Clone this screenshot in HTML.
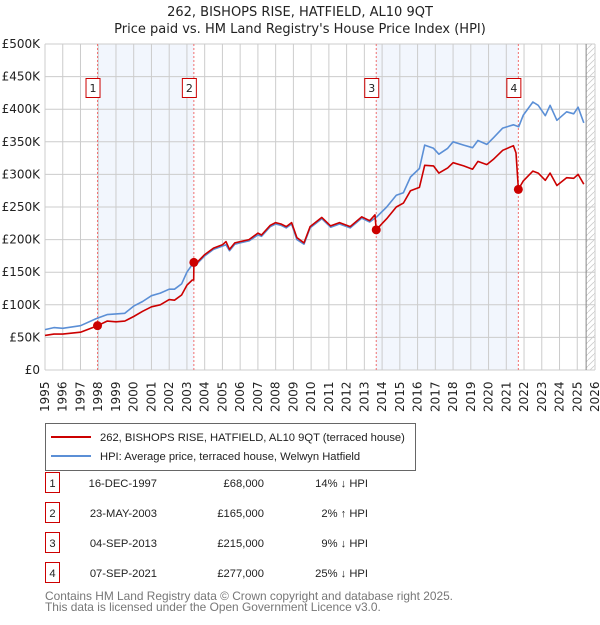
<!DOCTYPE html>
<html><head><meta charset="utf-8"><style>
body{margin:0;background:#fff;width:600px;height:620px;overflow:hidden;font-family:"Liberation Sans","DejaVu Sans",sans-serif}
svg text{font-family:"Liberation Sans","DejaVu Sans",sans-serif}
svg text.dv{font-family:"DejaVu Sans","Liberation Sans",sans-serif}
</style></head><body>
<svg id="c" width="600" height="620" xmlns="http://www.w3.org/2000/svg">
<defs><pattern id="hatch" width="6" height="6" patternUnits="userSpaceOnUse"><path d="M0 6L6 0" stroke="#ccc" stroke-width="0.8"/></pattern></defs>
<text class="dv" x="300" y="16" text-anchor="middle" font-size="13" fill="#222">262, BISHOPS RISE, HATFIELD, AL10 9QT</text>
<text class="dv" x="300" y="33" text-anchor="middle" font-size="13" fill="#222">Price paid vs. HM Land Registry's House Price Index (HPI)</text>
<g id="plot"></g>
<g>
<rect x="45.5" y="423.5" width="370" height="47" fill="#fff" stroke="#666"/>
<line x1="51" y1="437" x2="91" y2="437" stroke="#c00" stroke-width="2"/>
<text x="100" y="441" font-size="11.2" fill="#222">262, BISHOPS RISE, HATFIELD, AL10 9QT (terraced house)</text>
<line x1="51" y1="456" x2="91" y2="456" stroke="#5b8fd6" stroke-width="2"/>
<text x="100" y="460" font-size="11.2" fill="#222">HPI: Average price, terraced house, Welwyn Hatfield</text>
</g>
<g id="table" font-size="11.2" fill="#222"></g>
<text x="45" y="600" font-size="11.9" fill="#777">Contains HM Land Registry data © Crown copyright and database right 2025.</text>
<text x="45" y="611" font-size="11.9" fill="#777">This data is licensed under the Open Government Licence v3.0.</text>
</svg>
<script>
const hpiYears=[1995,1995.5,1996,1997,1997.9,1998.5,1999,1999.5,2000,2000.5,2001,2001.5,2002,2002.3,2002.7,2003,2003.3,2003.6,2004,2004.5,2005,2005.2,2005.4,2005.7,2006,2006.5,2007,2007.2,2007.7,2008,2008.3,2008.6,2008.9,2009.2,2009.6,2009.94,2010.6,2011.1,2011.6,2012.2,2012.85,2013.3,2013.7,2014.26,2014.8,2015.2,2015.6,2016.1,2016.4,2016.9,2017.2,2017.7,2018,2018.6,2019.1,2019.4,2019.9,2020.27,2020.8,2021.4,2021.7,2021.96,2022.5,2022.8,2023.2,2023.47,2023.85,2024.4,2024.8,2025.05,2025.37];
const hpiValues=[62,65,64,68,79,85,86,87,98,105,114,118,124,124,132,150,162,164,175,185,190,192,183,193,195,198,207,205,220,224,222,218,224,200,193,218,232,219,224,218,233,227,235,250,268,272,296,309,345,340,331,340,350,345,341,352,346,356,371,376,373,391,411,406,390,406,383,396,393,403,379];
const redYears=[1995,1995.5,1996,1997,1997.96,1998.5,1999,1999.5,2000,2000.5,2001,2001.5,2002,2002.3,2002.7,2003,2003.3,2003.38,2003.39,2003.6,2004,2004.5,2005,2005.2,2005.4,2005.7,2006,2006.5,2007,2007.2,2007.7,2008,2008.3,2008.6,2008.9,2009.2,2009.6,2009.94,2010.6,2011.1,2011.6,2012.2,2012.85,2013.3,2013.6,2013.67,2014.26,2014.8,2015.2,2015.6,2016.1,2016.4,2016.9,2017.2,2017.7,2018,2018.6,2019.1,2019.4,2019.9,2020.27,2020.8,2021.4,2021.55,2021.68,2021.96,2022.5,2022.8,2023.2,2023.47,2023.85,2024.4,2024.8,2025.05,2025.37];
const redValues=[53,55,55,58,68,75,74,75,82,90,97,100,108,107,115,130,138,138,165,166,177,187,192,197,185,195,197,200,210,207,222,226,224,220,226,203,195,220,234,221,226,220,235,229,238,215,232,250,256,275,280,314,313,302,310,318,313,308,320,315,323,337,344,333,277,290,305,302,291,302,283,295,294,300,285];
const saleYears=[1997.96,2003.39,2013.67,2021.68];
const saleValues=[68,165,215,277];
const saleDates=["16-DEC-1997","23-MAY-2003","04-SEP-2013","07-SEP-2021"];
const salePrices=["£68,000","£165,000","£215,000","£277,000"];
const saleDiffs=["14% ↓ HPI","2% ↑ HPI","9% ↓ HPI","25% ↓ HPI"];
const yTicks=[0,50,100,150,200,250,300,350,400,450,500];
const yTickLabels=["£0","£50K","£100K","£150K","£200K","£250K","£300K","£350K","£400K","£450K","£500K"];
const xTicks=[1995,1996,1997,1998,1999,2000,2001,2002,2003,2004,2005,2006,2007,2008,2009,2010,2011,2012,2013,2014,2015,2016,2017,2018,2019,2020,2021,2022,2023,2024,2025,2026];
const shadeRanges=[[1997.96,2003.39],[2013.67,2021.68]];
const X0=45,X1=595,Y0=370,Y1=44;
const xs=y=>X0+(y-1995)/(2026-1995)*(X1-X0);
const ys=v=>Y0-v/500*(Y0-Y1);
const NS="http://www.w3.org/2000/svg";
const plot=document.getElementById('plot');
function mk(tag,attrs,parent){const e=document.createElementNS(NS,tag);for(const k in attrs)e.setAttribute(k,attrs[k]);(parent||plot).appendChild(e);return e;}
shadeRanges.forEach(r=>{const e=mk('rect',{x:xs(r[0]),y:Y1,width:xs(r[1])-xs(r[0]),height:Y0-Y1,fill:'#eef3fc',opacity:0.75});

});
const h=mk('rect',{x:xs(2025.5),y:Y1,width:X1-xs(2025.5),height:Y0-Y1,fill:'url(#hatch)'});


yTicks.forEach((t,i)=>{mk('line',{x1:X0,x2:X1,y1:ys(t),y2:ys(t),stroke:'#ccc','stroke-width':1});
const tx=mk('text',{x:40,y:ys(t)+4,'text-anchor':'end','font-size':12,fill:'#222','class':'dv'});tx.textContent=yTickLabels[i];

});
xTicks.forEach(t=>{mk('line',{x1:xs(t),x2:xs(t),y1:Y1,y2:Y0,stroke:'#ccc','stroke-width':1});
const tx=mk('text',{transform:`translate(${xs(t)+4},${Y0+42}) rotate(-90)`,'font-size':12,fill:'#222','class':'dv'});tx.textContent=t;

});
mk('line',{x1:xs(2025.5),x2:xs(2025.5),y1:Y1,y2:Y0,stroke:'#888','stroke-width':1});
saleYears.forEach((y,i)=>{const l=mk('line',{x1:xs(y),x2:xs(y),y1:Y1,y2:Y0,stroke:'#f07070','stroke-width':1,'stroke-dasharray':'2,2'});

});
function path(xa,va,col,name){const d=xa.map((x,i)=>(i?'L':'M')+xs(x).toFixed(1)+' '+ys(va[i]).toFixed(1)).join(' ');
const p=mk('path',{d:d,fill:'none',stroke:col,'stroke-width':1.6,'stroke-linejoin':'round'});

}
path(hpiYears,hpiValues,'#5b8fd6','hpi-line');
path(redYears,redValues,'#cc0000','property-price-line');
saleYears.forEach((y,i)=>{const c=mk('circle',{cx:xs(y),cy:ys(saleValues[i]),r:4.5,fill:'#cc0000'});


const b=mk('rect',{x:xs(y)-11.5,y:78.5,width:14,height:19,fill:'#fff',stroke:'#cc0000'});


const t=mk('text',{x:xs(y)-4.5,y:92,'text-anchor':'middle','font-size':11,fill:'#222','class':'dv'});t.textContent=i+1;

});
const tb=document.getElementById('table');
saleDates.forEach((d,i)=>{const y=483+i*30;
const b=mk('rect',{x:45.5,y:y-10.5,width:14,height:20,fill:'#fff',stroke:'#cc0000'},tb);


const n=mk('text',{x:52.5,y:y+4,'text-anchor':'middle'},tb);n.textContent=i+1;


const a=mk('text',{x:157,y:y+4,'text-anchor':'end'},tb);a.textContent=d;


const p=mk('text',{x:264,y:y+4,'text-anchor':'end'},tb);p.textContent=salePrices[i];


const h=mk('text',{x:368,y:y+4,'text-anchor':'end'},tb);h.textContent=saleDiffs[i];

});
</script>
</body></html>
